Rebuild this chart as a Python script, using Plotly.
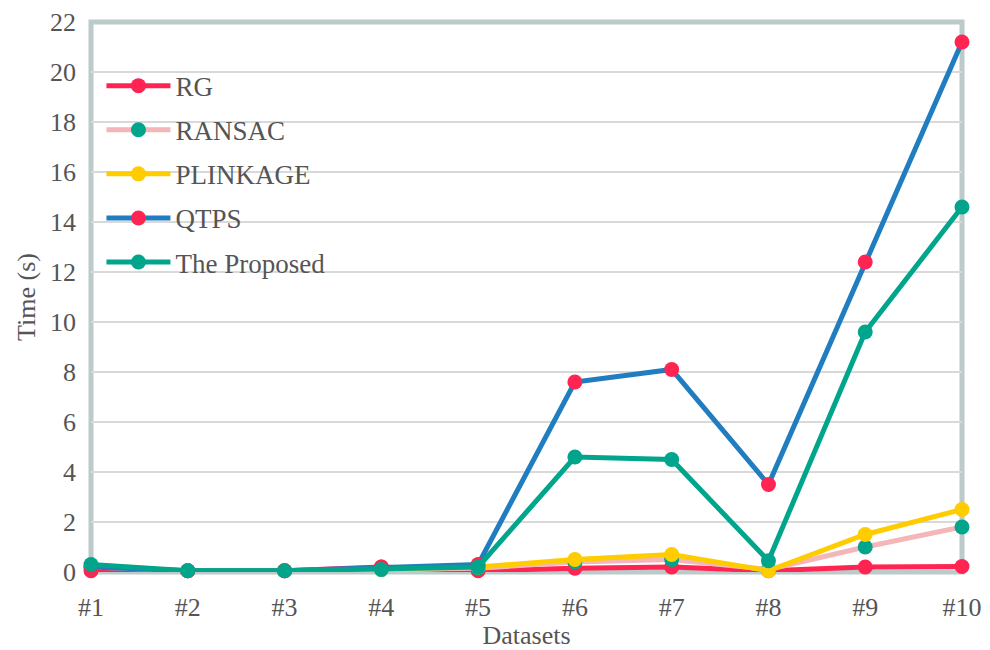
import plotly.graph_objects as go

datasets = ["#1", "#2", "#3", "#4", "#5", "#6", "#7", "#8", "#9", "#10"]
rg = [0.05, 0.05, 0.05, 0.2, 0.05, 0.15, 0.2, 0.05, 0.2, 0.22]
ransac = [0.2, 0.05, 0.05, 0.1, 0.15, 0.4, 0.5, 0.1, 1.0, 1.8]
plinkage = [0.25, 0.05, 0.05, 0.1, 0.2, 0.5, 0.7, 0.05, 1.5, 2.5]
qtps = [0.2, 0.05, 0.05, 0.2, 0.3, 7.6, 8.1, 3.5, 12.4, 21.2]
proposed = [0.3, 0.05, 0.05, 0.1, 0.2, 4.6, 4.5, 0.45, 9.6, 14.6]

x_idx = list(range(1, len(datasets) + 1))

series = [
    ("RG", rg, "#ff2452", "#ff2452"),
    ("RANSAC", ransac, "#f4b6b8", "#00a58c"),
    ("PLINKAGE", plinkage, "#ffcc00", "#ffcc00"),
    ("QTPS", qtps, "#1f7dc0", "#ff2452"),
    ("The Proposed", proposed, "#00a58c", "#00a58c"),
]

fig = go.Figure()
for name, vals, line_col, mk_col in series:
    fig.add_trace(go.Scatter(
        x=x_idx, y=vals, name=name, mode="lines+markers",
        line=dict(color=line_col, width=5),
        marker=dict(color=mk_col, size=15),
        cliponaxis=False, legendgroup=name,
    ))

font_family = "Liberation Serif, DejaVu Serif, serif"
text_col = "#555555"
frame_col = "#bccaca"

# grey frame centred on the plot-area edges, kept beneath the data
fig.add_shape(
    type="rect", xref="paper", yref="paper",
    x0=0, x1=1, y0=0, y1=1,
    line=dict(color=frame_col, width=5), layer="below",
)

fig.update_layout(
    width=990, height=650,
    margin=dict(l=91, r=28, t=22, b=78),
    paper_bgcolor="white", plot_bgcolor="rgba(0,0,0,0)",
    font=dict(family=font_family, size=26, color=text_col),
    showlegend=True,
    legend=dict(
        x=0.012, y=0.928, xanchor="left", yanchor="top",
        bgcolor="rgba(0,0,0,0)", traceorder="grouped", tracegroupgap=6,
        font=dict(family=font_family, size=27, color=text_col),
        itemwidth=64,
    ),
    xaxis=dict(
        range=[1, 10], tickvals=x_idx, ticktext=datasets,
        showgrid=False, zeroline=False, showline=False,
        ticks="", ticklabelstandoff=17, automargin=False,
        title=dict(text="Datasets", standoff=3, font=dict(size=26)),
    ),
    yaxis=dict(
        range=[0, 22], dtick=2,
        showgrid=True, gridcolor="#d9d9d9", gridwidth=2,
        zeroline=False, showline=False,
        ticks="", ticklabelstandoff=14, automargin=False,
        title=dict(text="Time (s)", standoff=6, font=dict(size=26)),
    ),
)

fig.write_html("out.html")
